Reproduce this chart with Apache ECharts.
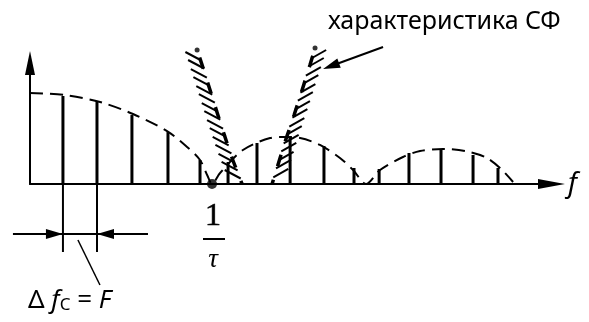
<!DOCTYPE html>
<html>
<head>
<meta charset="utf-8">
<script src="https://cdn.jsdelivr.net/npm/echarts@6/dist/echarts.min.js"></script>
<style>
html,body{margin:0;padding:0;background:#fff;}
#chart{width:589px;height:322px;}
</style>
</head>
<body>
<div id="chart"></div>
<script>
// Spectral lines: frequency (in units of 1/τ) and amplitude (relative to main peak)
const barF   = [0.181,0.368,0.560,0.758,0.934,1.088,1.247,1.429,1.615,1.780,1.918,2.082,2.258,2.434,2.571];
const barAmp = [0.967,0.912,0.758,0.571,0.264,0.242,0.451,0.527,0.418,0.176,0.165,0.341,0.374,0.319,0.176];

// Spectrum envelope (dashed)
const envF   = [0,0.192,0.385,0.566,0.753,0.863,0.934,0.975,1.0,1.044,1.170,1.319,1.390,1.484,1.593,1.703,1.775,1.846,1.923,2.049,2.143,2.269,2.390,2.500,2.582,2.654];
const envAmp = [1.0,0.978,0.901,0.769,0.582,0.407,0.264,0.09,0,0.121,0.374,0.505,0.516,0.505,0.429,0.286,0.154,0,0.154,0.297,0.363,0.385,0.363,0.297,0.176,0.022];

// Filter characteristic edges (СФ)
const filtLeftF    = [0.918,0.951,0.989,1.027,1.066,1.110,1.165];
const filtLeftAmp  = [1.473,1.275,1.033,0.791,0.549,0.286,0];
const filtRightF   = [1.566,1.538,1.495,1.451,1.401,1.357,1.330];
const filtRightAmp = [1.495,1.308,1.033,0.758,0.462,0.176,0];

// Hatch positions along the filter edges
const hatchLeftF    = [0.936,0.951,0.966,0.980,0.996,1.010,1.026,1.040,1.055,1.070,1.086,1.101,1.118,1.135,1.152];
const hatchLeftAmp  = [1.363,1.275,1.176,1.088,0.989,0.901,0.802,0.714,0.615,0.527,0.429,0.341,0.242,0.154,0.066];
const hatchRightF   = [1.550,1.537,1.521,1.507,1.491,1.477,1.461,1.447,1.430,1.416,1.399,1.386,1.371,1.357,1.342];
const hatchRightAmp = [1.385,1.297,1.198,1.110,1.011,0.923,0.824,0.736,0.637,0.549,0.451,0.363,0.264,0.176,0.077];

// Marked point 1/τ and pointer target for the label
const zeroPoint = [1, 0];
const pointerTip = [1.610, 1.264];

// Texts
const filterLabel = 'характеристика СФ';
const axisLabelF = 'f';

const zip = (a, b) => a.map((v, i) => [v, b[i]]);

const chart = echarts.init(document.getElementById('chart'), null, {renderer: 'canvas'});

function arrowHead(tip, dirX, dirY, len, halfW) {
  const bx = tip[0] - dirX * len, by = tip[1] - dirY * len;
  const nx = -dirY, ny = dirX;
  return {
    type: 'polygon',
    shape: {points: [tip, [bx + nx * halfW, by + ny * halfW], [bx - nx * halfW, by - ny * halfW]]},
    style: {fill: '#000'}
  };
}

const option = {
  animation: false,
  backgroundColor: '#fff',
  grid: {left: 30, top: 63, width: 521.5, height: 121, containLabel: false},
  xAxis: {
    type: 'value', min: 0, max: 2.865,
    axisLine: {show: true, lineStyle: {color: '#000', width: 2}, symbol: ['none', 'triangle'], symbolSize: [10, 27]},
    axisTick: {show: false}, axisLabel: {show: false}, splitLine: {show: false}
  },
  yAxis: {
    type: 'value', min: 0, max: 1.33,
    axisLine: {show: true, lineStyle: {color: '#000', width: 2}, symbol: ['none', 'triangle'], symbolSize: [10, 24]},
    axisTick: {show: false}, axisLabel: {show: false}, splitLine: {show: false}
  },
  series: [
    {
      type: 'line', data: zip(envF, envAmp), smooth: 0.3, symbol: 'none', clip: false,
      lineStyle: {color: '#000', width: 2, type: [13, 7]}
    },
    {
      type: 'custom', clip: false,
      data: zip(barF, barAmp),
      renderItem: function (params, api) {
        const p0 = api.coord([api.value(0), 0]);
        const p1 = api.coord([api.value(0), api.value(1)]);
        return {type: 'rect', shape: {x: p0[0] - 1.5, y: p1[1], width: 3, height: p0[1] - p1[1]}, style: {fill: '#000'}};
      }
    },
    {
      type: 'line', data: zip(filtLeftF, filtLeftAmp), symbol: 'none', clip: false, smooth: 0.2,
      lineStyle: {color: '#000', width: 3.5, type: [12, 14], dashOffset: 18}
    },
    {
      type: 'line', data: zip(filtRightF, filtRightAmp), symbol: 'none', clip: false, smooth: 0.2,
      lineStyle: {color: '#000', width: 3.5, type: [12, 14], dashOffset: 18}
    },
    {
      type: 'scatter', symbolSize: 5, itemStyle: {color: '#000'}, clip: false,
      data: [[filtLeftF[0], filtLeftAmp[0]], [filtRightF[0], filtRightAmp[0]]]
    },
    {
      type: 'custom', clip: false,
      data: zip(hatchLeftF, hatchLeftAmp),
      renderItem: function (params, api) {
        const p = api.coord([api.value(0), api.value(1)]);
        return {type: 'line', shape: {x1: p[0] - 15, y1: p[1] - 8, x2: p[0] + 1, y2: p[1] + 0.5}, style: {stroke: '#000', lineWidth: 2}};
      }
    },
    {
      type: 'custom', clip: false,
      data: zip(hatchRightF, hatchRightAmp),
      renderItem: function (params, api) {
        const p = api.coord([api.value(0), api.value(1)]);
        return {type: 'line', shape: {x1: p[0] - 1, y1: p[1] + 0.5, x2: p[0] + 14, y2: p[1] - 8}, style: {stroke: '#000', lineWidth: 2}};
      }
    },
    {
      type: 'scatter', symbolSize: 10, itemStyle: {color: '#000'}, clip: false, z: 5,
      data: [zeroPoint]
    },
    {
      // 1/τ label under the zero point
      type: 'custom', clip: false,
      data: [zeroPoint],
      renderItem: function (params, api) {
        const p = api.coord([api.value(0), api.value(1)]);
        return {type: 'group', children: [
          {type: 'text', style: {text: '1', x: p[0] + 1, y: p[1] + 33, align: 'center', verticalAlign: 'middle', font: '32px "Liberation Serif"', fill: '#000', stroke: '#000', lineWidth: 0.6}},
          {type: 'line', shape: {x1: p[0] - 9, y1: p[1] + 55, x2: p[0] + 13, y2: p[1] + 55}, style: {stroke: '#000', lineWidth: 2}},
          {type: 'text', style: {text: 'τ', x: p[0] + 1, y: p[1] + 76, align: 'center', verticalAlign: 'middle', font: 'italic 27px "Liberation Serif"', fill: '#000'}}
        ]};
      }
    },
    {
      // Pointer from the label to the filter characteristic
      type: 'custom', clip: false,
      data: [pointerTip],
      renderItem: function (params, api) {
        const t = api.coord([api.value(0), api.value(1)]);
        const s = [t[0] + 60, t[1] - 22];
        const L = Math.hypot(t[0] - s[0], t[1] - s[1]);
        const dx = (t[0] - s[0]) / L, dy = (t[1] - s[1]) / L;
        return {type: 'group', children: [
          {type: 'line', shape: {x1: s[0], y1: s[1], x2: t[0] - dx * 10, y2: t[1] - dy * 10}, style: {stroke: '#000', lineWidth: 2}},
          arrowHead(t, dx, dy, 17, 5)
        ]};
      }
    },
    {
      // Δf = F dimension
      type: 'custom', clip: false,
      data: [[barF[0], barF[1]]],
      renderItem: function (params, api) {
        const a = api.coord([api.value(0), 0]);
        const b = api.coord([api.value(1), 0]);
        const yArr = a[1] + 50;
        return {type: 'group', children: [
          {type: 'line', shape: {x1: a[0], y1: a[1], x2: a[0], y2: a[1] + 68}, style: {stroke: '#000', lineWidth: 2}},
          {type: 'line', shape: {x1: b[0], y1: b[1], x2: b[0], y2: b[1] + 68}, style: {stroke: '#000', lineWidth: 2}},
          {type: 'line', shape: {x1: a[0] - 50, y1: yArr, x2: b[0] + 51, y2: yArr}, style: {stroke: '#000', lineWidth: 2}},
          arrowHead([a[0], yArr], 1, 0, 17, 5),
          arrowHead([b[0], yArr], -1, 0, 17, 5),
          {type: 'line', shape: {x1: a[0] + 15, y1: a[1] + 56, x2: a[0] + 37, y2: a[1] + 101}, style: {stroke: '#000', lineWidth: 1.5}}
        ]};
      }
    }
  ],
  graphic: [
    {type: 'text', left: 328, top: 9, style: {text: filterLabel, font: '25px "Noto Sans"', fill: '#000'}},
    {type: 'text', left: 568, top: 170, style: {text: axisLabelF, font: 'italic 28px "Noto Sans"', fill: '#000'}},
    {
      type: 'text', left: 28, top: 288,
      style: {
        rich: {
          n: {font: '26px "Noto Sans"', fill: '#000'},
          i: {font: 'italic 26px "Noto Sans"', fill: '#000'},
          s: {font: '17px "Noto Sans"', fill: '#000', padding: [9, 0, 0, 0]}
        },
        text: '{n|Δ }{i|f}{s|C}{n| = }{i|F}'
      }
    }
  ]
};
chart.setOption(option);
</script>
</body>
</html>
